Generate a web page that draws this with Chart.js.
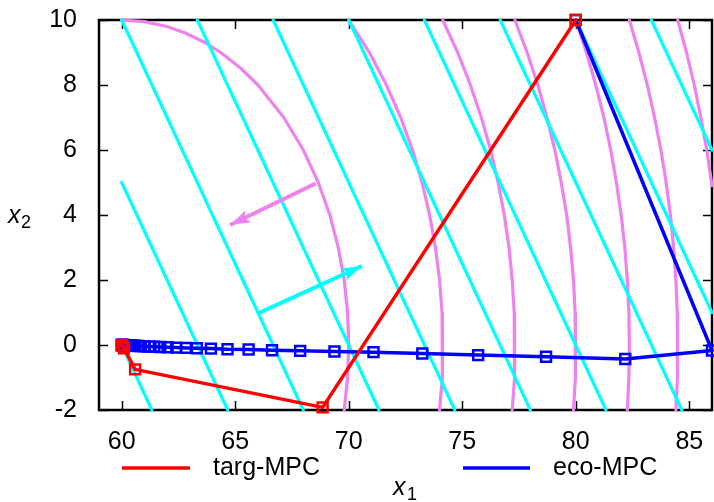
<!DOCTYPE html>
<html><head><meta charset="utf-8">
<script src="https://cdn.jsdelivr.net/npm/chart.js@4"></script>
<style>html,body{margin:0;padding:0;background:#fff;overflow:hidden}canvas{display:block}</style>
</head><body>
<canvas id="c" width="714" height="502"></canvas>
<script>
// ---- data ----
const xTicks = [60, 65, 70, 75, 80, 85];
const yTicks = [-2, 0, 2, 4, 6, 8, 10];

const targX = [80, 68.85, 60.59, 60.10, 60.02, 60.00];
const targY = [10, -1.92, -0.75, -0.10, -0.02, 0.00];

const ecoX = [80, 86.00, 82.18, 78.69, 75.70, 73.24, 71.09, 69.37, 67.86, 66.62,
  65.59, 64.66, 63.93, 63.31, 62.83, 62.40, 62.02, 61.70, 61.43, 61.20,
  61.01, 60.85, 60.72, 60.60, 60.51, 60.43, 60.36, 60.30, 60.25, 60.21,
  60.18, 60.15, 60.12, 60.10, 60.08, 60.06, 60.04, 60.02, 60.00];
const ecoY = [10, -0.17, -0.43, -0.36, -0.31, -0.26, -0.22, -0.20, -0.18, -0.16,
  -0.14, -0.13, -0.11, -0.10, -0.09, -0.08, -0.07, -0.06, -0.05, -0.045,
  -0.04, -0.035, -0.03, -0.025, -0.02, -0.02, -0.015, -0.015, -0.01, -0.01,
  -0.01, -0.01, -0.005, -0.005, 0, 0, 0, 0, 0];

// straight (cyan) level lines: [x0, y0, x1, y1]
const cyanLines = [
  [60.00, 0, 61.33, -2],
  [60.00, 5, 64.67, -2],
  [60.00, 10, 68.00, -2],
  [63.33, 10, 71.33, -2],
  [66.67, 10, 74.67, -2],
  [70.00, 10, 78.00, -2],
  [73.33, 10, 81.33, -2],
  [76.67, 10, 84.67, -2],
  [80.00, 10, 86.00, 1],
  [83.33, 10, 86.00, 6]
];

// curved (violet) level lines: x values at the listed heights
const violetY1 = [10, 9.95, 9.8, 9.6, 9.3, 9, 8.5, 8, 7, 6, 5, 4, 3, 2, 1, 0, -1, -2];
const violetX1 = [60.00, 61.00, 61.99, 62.80, 63.68, 64.36, 65.27, 66.00, 67.14, 68.00, 68.66, 69.17, 69.54, 69.80, 69.95, 70.00, 69.95, 69.80];
const violetY = [10, 9, 8, 7, 6, 5, 4, 3, 2, 1, 0, -1, -2];
const violetX2 = [70.00, 70.91, 71.66, 72.29, 72.81, 73.23, 73.56, 73.82, 74.00, 74.11, 74.14, 74.11, 74.00];
const violetX3 = [74.14, 74.80, 75.36, 75.84, 76.25, 76.58, 76.85, 77.06, 77.20, 77.29, 77.32, 77.29, 77.20];
const violetX4 = [77.32, 77.86, 78.33, 78.73, 79.08, 79.36, 79.60, 79.77, 79.90, 79.97, 80.00, 79.97, 79.90];
const violetX5 = [80.00, 80.47, 80.88, 81.24, 81.54, 81.79, 82.00, 82.16, 82.27, 82.34, 82.36, 82.34, 82.27];
const violetX6 = [82.36, 82.78, 83.15, 83.47, 83.75, 83.98, 84.17, 84.31, 84.41, 84.47, 84.49, 84.47, 84.41];
const violetY7 = [10, 9, 8, 7, 6, 5, 4.9];
const violetX7 = [84.49, 84.88, 85.22, 85.51, 85.77, 85.98, 86.00];

const violetArrowX = [68.54, 64.78];
const violetArrowY = [4.97, 3.69];
const cyanArrowX = [66.03, 70.58];
const cyanArrowY = [0.98, 2.43];

const seriesNames = ['targ-MPC', 'eco-MPC'];

// ---- build datasets ----
const RED = '#ff0000', BLUE = '#0000ff', CYAN = '#00ffff', VIOLET = '#ee82ee';
const pts = (xs, ys) => xs.map((x, i) => ({x: x, y: ys[i]}));
const base = {showLine: true, pointRadius: 0, pointHoverRadius: 0, tension: 0, clip: false,
  borderJoinStyle: 'round', borderCapStyle: 'round', fill: false};

const datasets = [];
datasets.push(Object.assign({}, base, {label: seriesNames[0], data: pts(targX, targY),
  borderColor: RED, borderWidth: 3.5, pointStyle: 'rect', pointRadius: 7, pointBorderWidth: 2.5,
  pointBorderColor: RED, pointBackgroundColor: 'rgba(0,0,0,0)', order: 0}));
datasets.push(Object.assign({}, base, {label: seriesNames[1], data: pts(ecoX, ecoY),
  borderColor: BLUE, borderWidth: 3.5, pointStyle: 'rect', pointRadius: 7, pointBorderWidth: 2.5,
  pointBorderColor: BLUE, pointBackgroundColor: 'rgba(0,0,0,0)', order: 1}));
datasets.push(Object.assign({}, base, {label: 'va', data: pts(violetArrowX, violetArrowY),
  borderColor: VIOLET, borderWidth: 4, borderCapStyle: 'butt', arrow: true, order: 2}));
datasets.push(Object.assign({}, base, {label: 'ca', data: pts(cyanArrowX, cyanArrowY),
  borderColor: CYAN, borderWidth: 4, borderCapStyle: 'butt', arrow: true, order: 2}));
cyanLines.forEach((l, i) => datasets.push(Object.assign({}, base, {label: 'c' + i,
  data: pts([l[0], l[2]], [l[1], l[3]]), borderColor: CYAN, borderWidth: 3.2, order: 3})));
[[violetX1, violetY1], [violetX2, violetY], [violetX3, violetY], [violetX4, violetY],
 [violetX5, violetY], [violetX6, violetY], [violetX7, violetY7]].forEach((c, i) =>
  datasets.push(Object.assign({}, base, {label: 'v' + i, data: pts(c[0], c[1]),
    borderColor: VIOLET, borderWidth: 3.2, order: 4})));

const FONT = '"Liberation Sans", Arial, sans-serif';

const deco = {
  id: 'deco',
  beforeDatasetsDraw(chart) {
    const {ctx, chartArea: a, scales: {x, y}} = chart;
    ctx.save();
    ctx.strokeStyle = '#000';
    ctx.lineWidth = 1.5;
    const T = 9;
    ctx.beginPath();
    xTicks.forEach(v => {
      const p = Math.round(x.getPixelForValue(v)) + 0.5;
      ctx.moveTo(p, a.bottom); ctx.lineTo(p, a.bottom - T);
      ctx.moveTo(p, a.top); ctx.lineTo(p, a.top + T);
    });
    yTicks.forEach(v => {
      const p = Math.round(y.getPixelForValue(v)) + 0.5;
      ctx.moveTo(a.left, p); ctx.lineTo(a.left + T, p);
      ctx.moveTo(a.right, p); ctx.lineTo(a.right - T, p);
    });
    ctx.stroke();
    ctx.lineWidth = 2.5;
    ctx.strokeRect(a.left, a.top, a.right - a.left, a.bottom - a.top);
    ctx.restore();
  },
  afterDatasetsDraw(chart) {
    const ctx = chart.ctx;
    chart.data.datasets.forEach((ds, i) => {
      if (!ds.arrow) return;
      const m = chart.getDatasetMeta(i).data;
      const p0 = m[m.length - 2], p1 = m[m.length - 1];
      const ang = Math.atan2(p1.y - p0.y, p1.x - p0.x);
      const L = 20, W = 6.5;
      ctx.save();
      ctx.fillStyle = ds.borderColor;
      ctx.translate(p1.x, p1.y); ctx.rotate(ang);
      ctx.beginPath();
      ctx.moveTo(0, 0); ctx.lineTo(-L, -W); ctx.lineTo(-L * 0.8, 0); ctx.lineTo(-L, W);
      ctx.closePath(); ctx.fill();
      ctx.restore();
    });
  },
  afterDraw(chart) {
    const ctx = chart.ctx;
    ctx.save();
    ctx.fillStyle = '#000';
    ctx.textBaseline = 'middle';
    // legend
    const ly = 468;
    ctx.lineWidth = 3.5;
    ctx.strokeStyle = RED;
    ctx.beginPath(); ctx.moveTo(122, ly); ctx.lineTo(190, ly); ctx.stroke();
    ctx.strokeStyle = BLUE;
    ctx.beginPath(); ctx.moveTo(463, ly); ctx.lineTo(530, ly); ctx.stroke();
    ctx.font = '25px ' + FONT;
    ctx.textAlign = 'left';
    ctx.fillText(seriesNames[0], 213, ly);
    ctx.fillText(seriesNames[1], 553, ly);
    // axis titles
    ctx.textBaseline = 'alphabetic';
    ctx.font = 'italic 25px ' + FONT;
    ctx.fillText('x', 393, 495);
    ctx.font = '18px ' + FONT;
    ctx.fillText('1', 407, 500);
    ctx.font = 'italic 25px ' + FONT;
    ctx.fillText('x', 8, 223);
    ctx.font = '18px ' + FONT;
    ctx.fillText('2', 21, 228);
    ctx.restore();
  }
};

const noPad = s => { s.paddingTop = 0; s.paddingBottom = 0; s.paddingLeft = 0; s.paddingRight = 0; };

new Chart(document.getElementById('c'), {
  type: 'scatter',
  data: {datasets: datasets},
  options: {
    responsive: false, animation: false, devicePixelRatio: 1,
    layout: {autoPadding: false, padding: {left: 0, right: 2, top: 20, bottom: 0}},
    plugins: {legend: {display: false}, tooltip: {enabled: false}},
    events: [],
    scales: {
      x: {
        type: 'linear', min: 59, max: 86,
        grid: {display: false, drawTicks: false},
        border: {display: false},
        afterBuildTicks: s => { s.ticks = xTicks.map(v => ({value: v})); },
        afterFit: s => { s.height = 92; noPad(s); },
        ticks: {color: '#000', font: {family: FONT, size: 25}, padding: 17,
          maxRotation: 0, autoSkip: false, callback: v => String(v)}
      },
      y: {
        type: 'linear', min: -2, max: 10,
        grid: {display: false, drawTicks: false},
        border: {display: false},
        afterBuildTicks: s => { s.ticks = yTicks.map(v => ({value: v})); },
        afterFit: s => { s.width = 99; noPad(s); },
        ticks: {color: '#000', font: {family: FONT, size: 25}, padding: 22,
          autoSkip: false, callback: v => String(v)}
      }
    }
  },
  plugins: [deco]
});
</script>
</body></html>
